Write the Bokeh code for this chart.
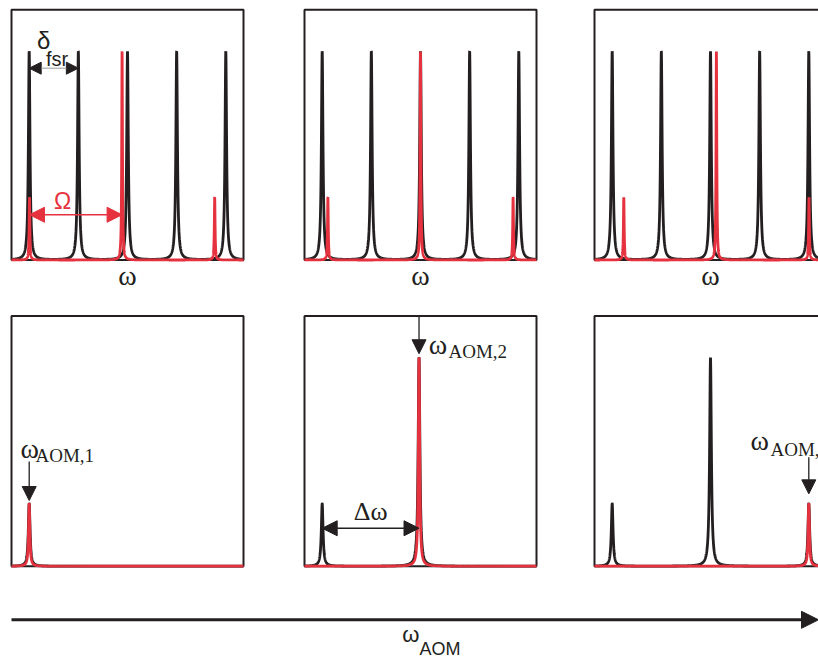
import numpy as np
from bokeh.plotting import figure
from bokeh.models import Range1d, Arrow, NormalHead
from bokeh.core.properties import value
from bokeh.embed import file_html
from bokeh.resources import INLINE

# ---------------- data (frequency in units of the free spectral range) -------------
cavity_modes = [0.36, 1.36, 2.36, 3.36, 4.36]      # black comb (cavity resonances)
cavity_height = [1.0, 1.0, 1.0, 1.0, 1.0]
carrier_pos = [2.25, 2.36, 2.48]                   # red carrier, one per AOM setting
sideband_sep = 1.884                               # Omega
carrier_height = 1.0
sideband_height = 0.30

beat_black_pos = [[0.36], [0.36, 2.33], [0.36, 2.36, 4.36]]
beat_black_amp = [[0.30], [0.30, 1.0], [0.30, 1.0, 0.30]]
beat_red_pos = [0.36, 2.33, 4.36]
beat_red_amp = [0.30, 1.0, 0.30]

omega_span = [0.0, 4.72]
amp_span = [0.0, 1.2]

INK = "#231f20"
RED = "#e5323e"
SERIF = "Liberation Serif"
SANS = "Liberation Sans"

W, H = 818, 659
p = figure(width=W, height=H, x_range=Range1d(0, W), y_range=Range1d(H, 0),
           output_backend="svg", toolbar_location=None, min_border=0,
           x_axis_location=None, y_axis_location=None, outline_line_color=None,
           background_fill_color="white", border_fill_color="white")
p.grid.grid_line_color = None

# panel placement (screen pixels)
col_left = [11, 304, 594]
row_base = [259.5, 565.7]
kx = 232.0 / (omega_span[1] - omega_span[0])
ky = 208.5

xr, yr = {}, {}
for c, L in enumerate(col_left):
    s = omega_span[0] - L / kx
    xr[f"c{c}"] = Range1d(s, s + W / kx)
for r, yb in enumerate(row_base):
    s = amp_span[0] - (H - yb) / ky
    yr[f"r{r}"] = Range1d(s, s + H / ky)
p.extra_x_ranges = xr
p.extra_y_ranges = yr


def spectrum(pos, amp, g):
    xs = np.linspace(omega_span[0], omega_span[1], 6001)
    xs = np.union1d(xs, np.array(pos))
    ys = np.zeros_like(xs)
    for x0, a in zip(pos, amp):
        ys += a * g * g / ((xs - x0) ** 2 + g * g)
    return xs, ys


def txt(x, y, s, font, size, color=INK, align="left", xn="default", yn="default"):
    # y is the desired baseline; text is anchored at the middle of its em box
    shift = 0.34 * size
    ym = y - shift if yn == "default" else y + shift / ky
    p.text(x=[x], y=[ym], text=[s], text_font=value(font), text_font_size=value(f"{size}px"),
           text_color=color, text_align=align, text_baseline="middle",
           x_range_name=xn, y_range_name=yn)


for r in range(2):
    for c in range(3):
        p.quad(left=[omega_span[0]], right=[omega_span[1]], bottom=[amp_span[0]], top=[amp_span[1]],
               fill_color=None, line_color=INK, line_width=2,
               x_range_name=f"c{c}", y_range_name=f"r{r}")

# top row: cavity comb (black) and modulated laser (red)
for c in range(3):
    xs, ys = spectrum(cavity_modes, cavity_height, 0.019)
    p.line(xs, ys, line_color=INK, line_width=2.8, x_range_name=f"c{c}", y_range_name="r0")
    cp = carrier_pos[c]
    rpos = [cp - sideband_sep, cp, cp + sideband_sep]
    ramp = [sideband_height, carrier_height, sideband_height]
    xs, ys = spectrum(rpos, ramp, 0.009)
    p.line(xs, ys, line_color=RED, line_width=2.8, x_range_name=f"c{c}", y_range_name="r0")

# bottom row: recorded transmission vs AOM frequency
for c in range(3):
    xs, ys = spectrum(beat_black_pos[c], beat_black_amp[c], 0.021)
    p.line(xs, ys, line_color=INK, line_width=2.8, x_range_name=f"c{c}", y_range_name="r1")
    xs, ys = spectrum([beat_red_pos[c]], [beat_red_amp[c]], 0.016)
    p.line(xs, ys, line_color=RED, line_width=2.8, x_range_name=f"c{c}", y_range_name="r1")


def head(color, size):
    return NormalHead(size=size, fill_color=color, line_color=color, line_width=1)


# delta_fsr arrow
p.add_layout(Arrow(x_start=cavity_modes[0], x_end=cavity_modes[1], y_start=0.92, y_end=0.92,
                   start=head(INK, 12), end=head(INK, 12), line_color="#9a9a9a", line_width=1,
                   x_range_name="c0", y_range_name="r0"))
txt(0.52, 1.014, "δ", SANS, 24, xn="c0", yn="r0")
txt(0.70, 0.93, "fsr", SANS, 20, xn="c0", yn="r0")

# Omega arrow
p.add_layout(Arrow(x_start=carrier_pos[0] - sideband_sep, x_end=carrier_pos[0], y_start=0.217, y_end=0.217,
                   start=head(RED, 15), end=head(RED, 15), line_color=RED, line_width=1.3,
                   x_range_name="c0", y_range_name="r0"))
txt(1.038, 0.246, "Ω", SANS, 23, color=RED, align="center", xn="c0", yn="r0")

# omega labels under top panels
for c in range(3):
    txt(2.36, -0.118, "ω", SERIF, 28, align="center", xn=f"c{c}", yn="r0")

# omega_AOM markers in bottom row
aom_arrow = [(0.502, 0.315), (1.2, 1.019), (0.523, 0.347)]
aom_w = [(0.183, 0.521), (2.529, 1.020), (3.174, 0.555)]
aom_sub = [(0.488, 0.499), (2.93, 1.001), (3.581, 0.531)]
for c in range(3):
    y0, y1 = aom_arrow[c]
    p.add_layout(Arrow(x_start=beat_red_pos[c], x_end=beat_red_pos[c], y_start=y0, y_end=y1,
                       end=head(INK, 14), line_color=INK, line_width=1.3,
                       x_range_name=f"c{c}", y_range_name="r1"))
    txt(aom_w[c][0], aom_w[c][1], "ω", SERIF, 28, xn=f"c{c}", yn="r1")
    txt(aom_sub[c][0], aom_sub[c][1], f"AOM,{c + 1}", SERIF, 19, xn=f"c{c}", yn="r1")

# Delta omega arrow
p.add_layout(Arrow(x_start=beat_black_pos[1][0], x_end=beat_black_pos[1][1], y_start=0.182, y_end=0.182,
                   start=head(INK, 15), end=head(INK, 15), line_color=INK, line_width=1.3,
                   x_range_name="c1", y_range_name="r1"))
txt((beat_black_pos[1][0] + beat_black_pos[1][1]) / 2, 0.219, "Δω", SERIF, 26,
    align="center", xn="c1", yn="r1")

# omega_AOM scan axis
p.add_layout(Arrow(x_start=11, x_end=818, y_start=619.3, y_end=619.3, end=head(INK, 17),
                   line_color=INK, line_width=3))
txt(401.7, 641.7, "ω", SANS, 22)
txt(419, 655, "AOM", SANS, 18)

open("out.html", "w").write(file_html(p, INLINE))
